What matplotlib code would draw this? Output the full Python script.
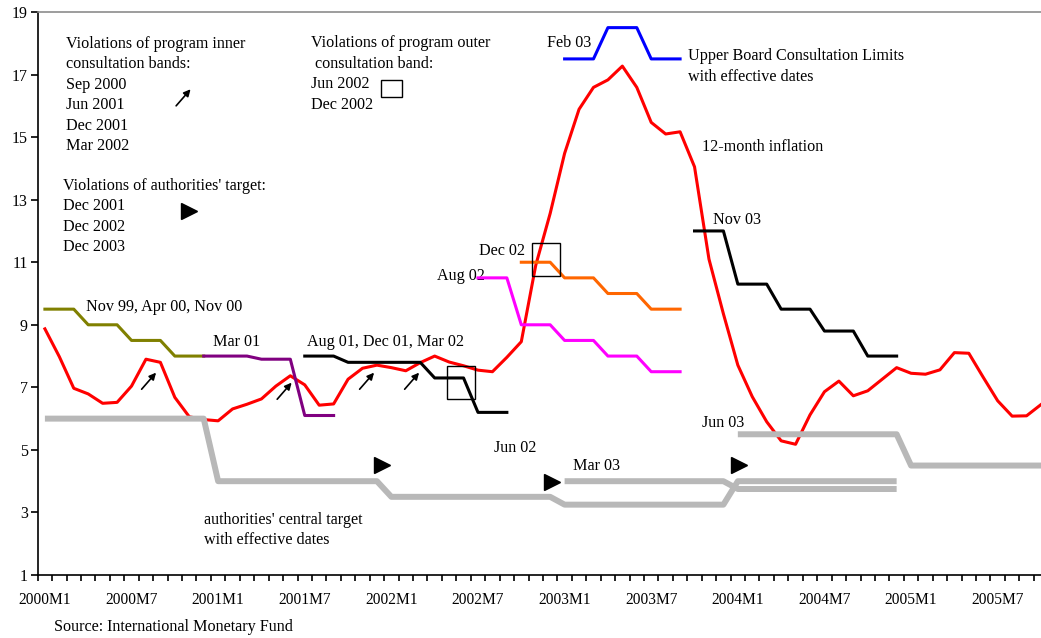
import numpy as np
import matplotlib.pyplot as plt
from matplotlib.patches import Rectangle

plt.rcParams['font.family'] = ['Liberation Serif', 'DejaVu Serif']
plt.rcParams['font.size'] = 11.6

# month index 0 = 2000M1
tick_pos = [0, 6, 12, 18, 24, 30, 36, 42, 48, 54, 60, 66]
tick_labels = ["2000M1", "2000M7", "2001M1", "2001M7", "2002M1", "2002M7",
               "2003M1", "2003M7", "2004M1", "2004M7", "2005M1", "2005M7"]

# 12-month inflation, 2000M1 .. 2005M10
inflation = [8.87, 7.98, 6.97, 6.79, 6.49, 6.52, 7.04, 7.90, 7.80, 6.68,
             6.06, 5.97, 5.93, 6.31, 6.46, 6.63, 7.04, 7.37, 7.08, 6.43,
             6.47, 7.26, 7.61, 7.71, 7.63, 7.53, 7.79, 8.00, 7.81, 7.69,
             7.55, 7.50, 7.96, 8.46, 10.90, 12.56, 14.48, 15.89, 16.59, 16.83,
             17.27, 16.59, 15.47, 15.10, 15.17, 14.05, 11.10, 9.35, 7.71, 6.70,
             5.90, 5.29, 5.18, 6.12, 6.86, 7.20, 6.73, 6.89, 7.26, 7.63,
             7.45, 7.42, 7.56, 8.11, 8.09, 7.32, 6.57, 6.08, 6.09, 6.45]

# inner consultation bands (upper limits), by program review
band_nov99_start = 0
band_nov99 = [9.5, 9.5, 9.5, 9.0, 9.0, 9.0, 8.5, 8.5, 8.5, 8.0, 8.0, 8.0]
band_mar01_start = 11
band_mar01 = [8.0, 8.0, 8.0, 8.0, 7.9, 7.9, 7.9, 6.1, 6.1, 6.1]
band_aug01_start = 18
band_aug01 = [8.0, 8.0, 8.0, 7.8, 7.8, 7.8, 7.8, 7.8, 7.8, 7.3, 7.3, 7.3,
              6.2, 6.2, 6.2]
band_aug02_start = 30
band_aug02 = [10.5, 10.5, 10.5, 9.0, 9.0, 9.0, 8.5, 8.5, 8.5, 8.0, 8.0, 8.0,
              7.5, 7.5, 7.5]
band_dec02_start = 33
band_dec02 = [11.0, 11.0, 11.0, 10.5, 10.5, 10.5, 10.0, 10.0, 10.0, 9.5, 9.5, 9.5]
board_feb03_start = 36
board_feb03 = [17.5, 17.5, 17.5, 18.5, 18.5, 18.5, 17.5, 17.5, 17.5]
band_nov03_start = 45
band_nov03 = [12.0, 12.0, 12.0, 10.3, 10.3, 10.3, 9.5, 9.5, 9.5, 8.8, 8.8, 8.8,
              8.0, 8.0, 8.0]

# authorities' central target
target_a_start = 0
target_a = [6.0, 6.0, 6.0, 6.0, 6.0, 6.0, 6.0, 6.0, 6.0, 6.0, 6.0, 6.0,
            4.0, 4.0, 4.0, 4.0, 4.0, 4.0, 4.0, 4.0, 4.0, 4.0, 4.0, 4.0,
            3.5, 3.5, 3.5, 3.5, 3.5, 3.5, 3.5, 3.5, 3.5, 3.5, 3.5, 3.5,
            3.25, 3.25, 3.25, 3.25, 3.25, 3.25, 3.25, 3.25, 3.25, 3.25, 3.25, 3.25,
            4.0, 4.0, 4.0, 4.0, 4.0, 4.0, 4.0, 4.0, 4.0, 4.0, 4.0, 4.0]
target_b_start = 36
target_b = [4.0, 4.0, 4.0, 4.0, 4.0, 4.0, 4.0, 4.0, 4.0, 4.0, 4.0, 4.0,
            3.75, 3.75, 3.75, 3.75, 3.75, 3.75, 3.75, 3.75, 3.75, 3.75, 3.75, 3.75]
target_c_start = 48
target_c = [5.5, 5.5, 5.5, 5.5, 5.5, 5.5, 5.5, 5.5, 5.5, 5.5, 5.5, 5.5,
            4.5, 4.5, 4.5, 4.5, 4.5, 4.5, 4.5, 4.5, 4.5, 4.5]


def span(start, values):
    return np.arange(start, start + len(values)), values


fig = plt.figure(figsize=(10.41, 6.38), dpi=100)
ax = fig.add_axes([0.0362, 0.0987, 0.9638, 0.8825])

ax.plot(np.arange(len(inflation)), inflation, color='#ff0000', lw=2.2, zorder=3)

steps = [(band_nov99_start, band_nov99, '#808000'),
         (band_mar01_start, band_mar01, '#800080'),
         (band_aug01_start, band_aug01, 'black'),
         (band_aug02_start, band_aug02, '#ff00ff'),
         (band_dec02_start, band_dec02, '#ff6600'),
         (board_feb03_start, board_feb03, '#0000ff'),
         (band_nov03_start, band_nov03, 'black')]
for start, vals, col in steps:
    x, y = span(start, vals)
    ax.plot(x, y, color=col, lw=2.2, zorder=4)

for start, vals in [(target_a_start, target_a), (target_b_start, target_b),
                    (target_c_start, target_c)]:
    x, y = span(start, vals)
    ax.plot(x, y, color='#b8b8b8', lw=4.3, solid_capstyle='butt', zorder=5)

# violation boxes (outer band)
for x0, y0, w, h in [(27.83, 6.63, 1.93, 1.06), (33.75, 10.56, 1.92, 1.05),
                     (23.28, 16.27, 1.43, 0.56)]:
    ax.add_patch(Rectangle((x0, y0), w, h, fill=False, ec='black', lw=1, zorder=6))

# violations of authorities' target
for tx, ty in [(10.0, 12.65), (23.37, 4.52), (35.1, 3.99), (48.09, 4.52)]:
    ax.plot(tx, ty, marker='>', ms=11, color='black', zorder=7)

# violations of inner bands
for hx, hy in [(10.09, 16.53), (7.70, 7.47), (17.09, 7.15), (22.80, 7.47), (25.92, 7.47)]:
    ax.annotate('', xy=(hx, hy), xytext=(hx - 1.0, hy - 0.53),
                arrowprops=dict(arrowstyle='-|>', color='black', lw=1.2,
                                mutation_scale=10, shrinkA=0, shrinkB=0), zorder=7)


def block(x, y, lines, dy=0.655):
    for k, line in enumerate(lines):
        ax.text(x, y - k * dy, line, ha='left', va='center')


block(1.46, 17.98, ["Violations of program inner", "consultation bands:",
                    "Sep 2000", "Jun 2001", "Dec 2001", "Mar 2002"])
block(1.27, 13.45, ["Violations of authorities' target:", "Dec 2001",
                    "Dec 2002", "Dec 2003"])
block(18.41, 18.0, ["Violations of program outer", " consultation band:",
                    "Jun 2002", "Dec 2002"])
block(44.56, 17.59, ["Upper Board Consultation Limits", "with effective dates"])
block(11.02, 2.76, ["authorities' central target", "with effective dates"])

for tx, ty, s in [(2.85, 9.56, "Nov 99, Apr 00, Nov 00"), (11.64, 8.46, "Mar 01"),
                  (18.13, 8.46, "Aug 01, Dec 01, Mar 02"), (30.06, 11.37, "Dec 02"),
                  (27.13, 10.56, "Aug 02"), (34.79, 18.0, "Feb 03"),
                  (45.55, 14.69, "12-month inflation"), (46.25, 12.35, "Nov 03")]:
    ax.text(tx, ty, s, ha='left', va='center')

for tx, ty, s in [(32.55, 5.06, "Jun 02"), (38.2, 4.49, "Mar 03"), (46.96, 5.86, "Jun 03")]:
    ax.text(tx, ty, s, ha='center', va='center')

ax.set_xlim(-0.5, 69.0)
ax.set_ylim(1, 19)
ax.set_yticks(np.arange(1, 20, 2))
ax.tick_params(axis='y', direction='out', length=5, width=1.2, pad=2,
               colors='black', labelsize=11.5)

ax.set_xticks(np.arange(-0.5, 69.5, 1))
ax.set_xticklabels([])
ax.tick_params(axis='x', which='major', direction='out', length=4, width=1.2)
ax.set_xticks(tick_pos, minor=True)
ax.set_xticklabels(tick_labels, minor=True)
ax.tick_params(axis='x', which='minor', length=0, pad=12, labelsize=11.2)

ax.spines['right'].set_visible(False)
ax.spines['top'].set_color('#8c8c8c')
ax.spines['top'].set_linewidth(1.2)
ax.spines['left'].set_linewidth(1.2)
ax.spines['bottom'].set_linewidth(1.2)

fig.text(0.0519, 0.017, "Source: International Monetary Fund", ha='left', va='center')

fig.savefig('out.png', dpi=100)
